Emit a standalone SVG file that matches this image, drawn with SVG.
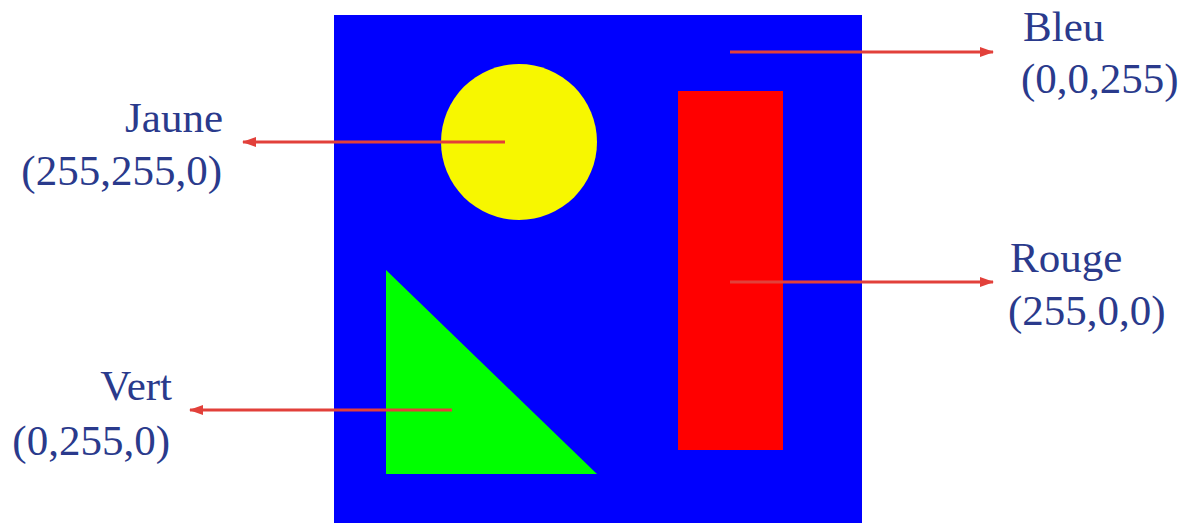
<svg xmlns="http://www.w3.org/2000/svg" width="1199" height="523" viewBox="0 0 1199 523">
<style>
.lbl{font-family:"Liberation Serif","Times New Roman",serif;font-size:43px;fill:#2a3a8c}
.r{text-anchor:end}
.arr{stroke:#e2403a;stroke-width:3;fill:none;marker-end:url(#ah)}
</style>
<defs>
<marker id="ah" markerWidth="14" markerHeight="10" refX="13" refY="5" orient="auto" markerUnits="userSpaceOnUse">
<path d="M0,0 L14,5 L0,10 Z" fill="#e2403a"/>
</marker>
</defs>
<rect width="1199" height="523" fill="#ffffff"/>
<g id="image">
<rect x="334" y="15" width="528" height="508" fill="#0000fe"/>
<circle cx="519" cy="142" r="78" fill="#f7f700"/>
<rect x="678" y="91" width="105" height="359" fill="#ff0000"/>
<polygon points="386,270 386,474 597,474" fill="#00ff00"/>
</g>
<g id="connectors">
<line class="arr" x1="505" y1="142" x2="243" y2="142"/>
<line class="arr" x1="730" y1="52" x2="993" y2="52"/>
<line class="arr" x1="730" y1="282" x2="993" y2="282"/>
<line class="arr" x1="452" y1="410" x2="190" y2="410"/>
</g>
<g id="jaune">
<text class="lbl r" x="223" y="132">Jaune</text>
<text class="lbl r" x="222" y="185">(255,255,0)</text>
</g>
<g id="bleu">
<text class="lbl" x="1023" y="41">Bleu</text>
<text class="lbl" x="1021" y="93">(0,0,255)</text>
</g>
<g id="rouge">
<text class="lbl" x="1010" y="272">Rouge</text>
<text class="lbl" x="1008" y="325">(255,0,0)</text>
</g>
<g id="vert">
<text class="lbl r" x="172" y="400">Vert</text>
<text class="lbl r" x="170" y="455">(0,255,0)</text>
</g>
</svg>
